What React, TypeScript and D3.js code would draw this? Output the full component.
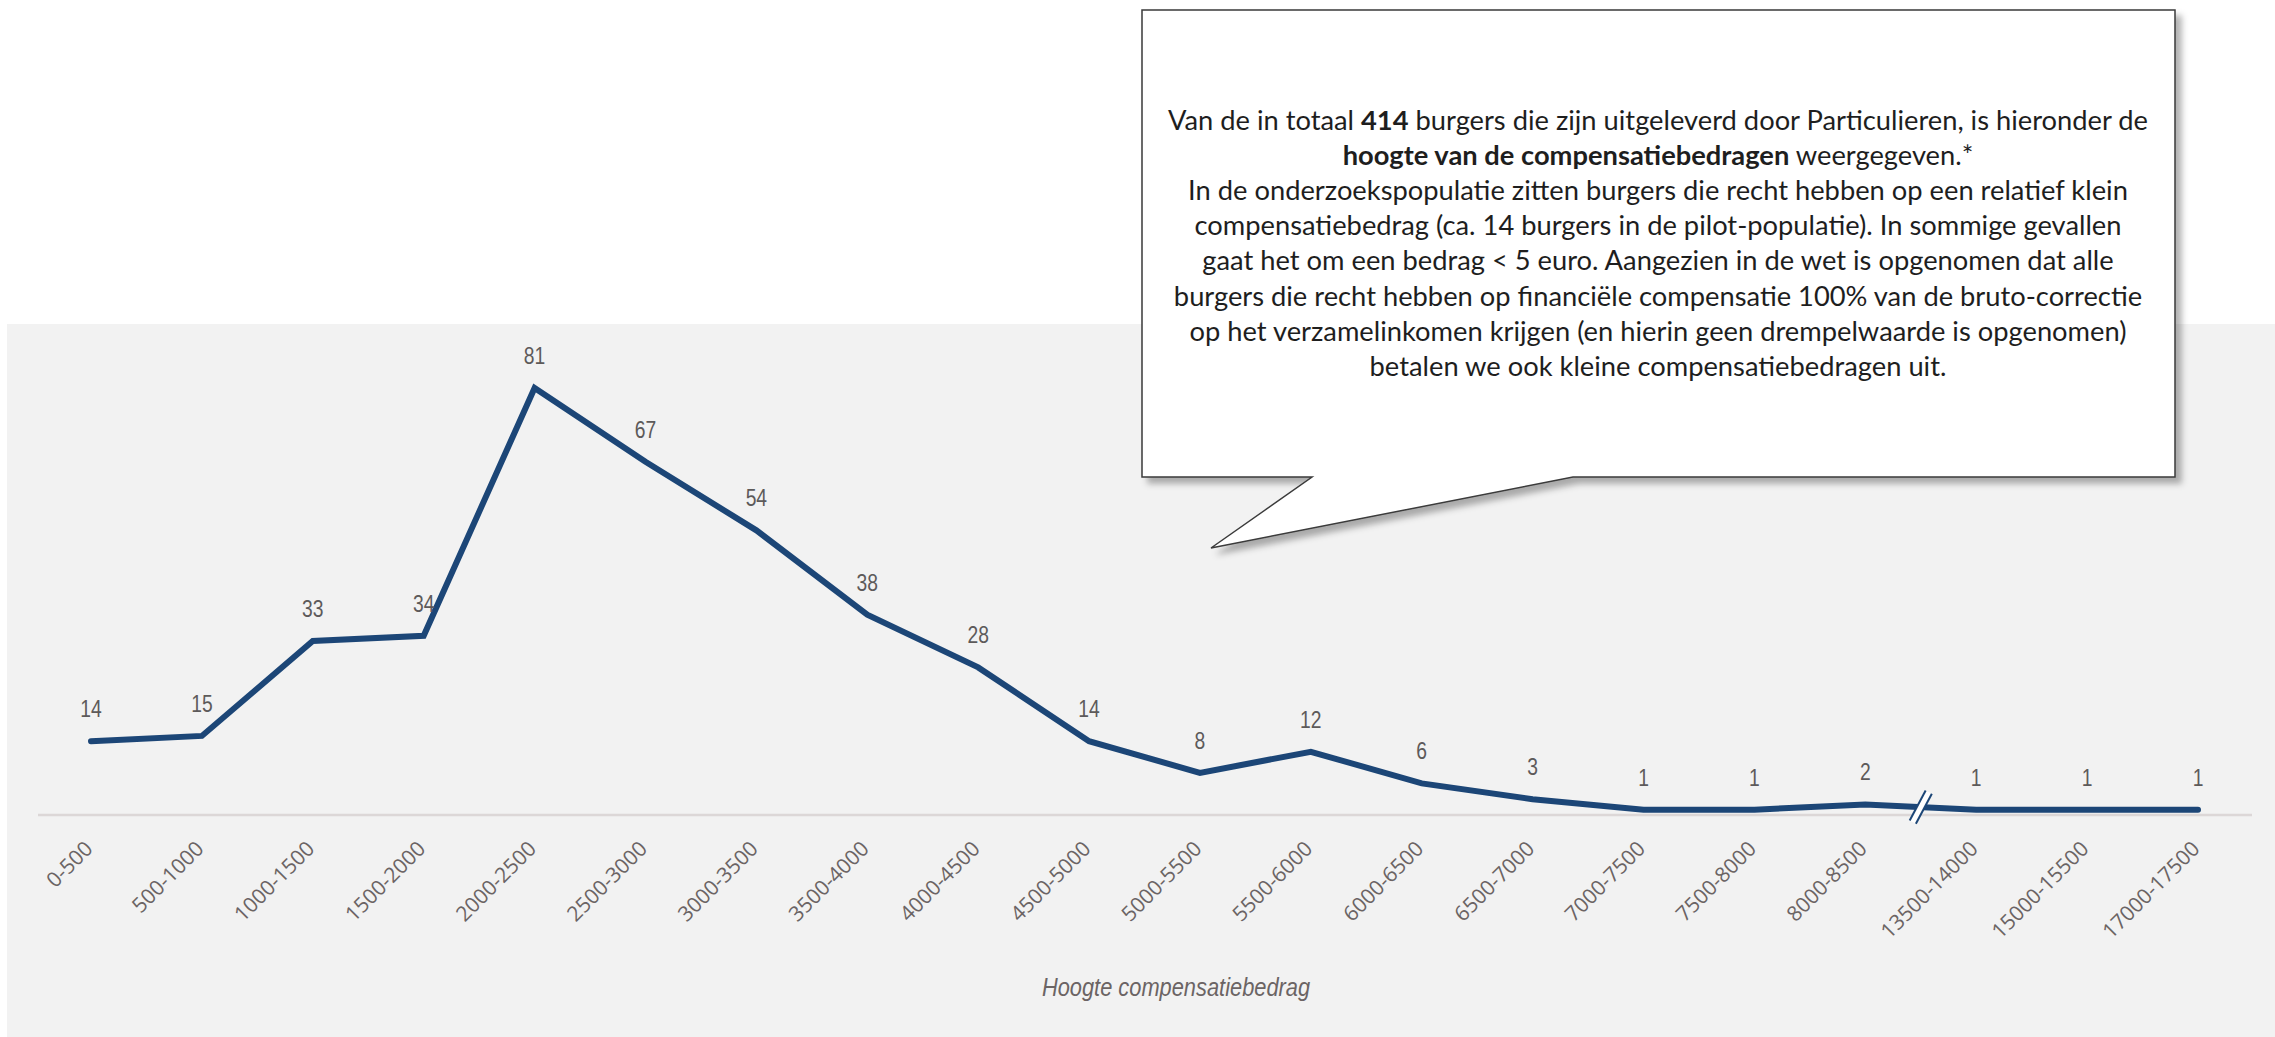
import { useEffect, useRef } from 'react';
import * as d3 from 'd3';

// Number of citizens per compensation bracket (euro)
const categories = [
  '0-500', '500-1000', '1000-1500', '1500-2000', '2000-2500', '2500-3000',
  '3000-3500', '3500-4000', '4000-4500', '4500-5000', '5000-5500', '5500-6000',
  '6000-6500', '6500-7000', '7000-7500', '7500-8000', '8000-8500',
  '13500-14000', '15000-15500', '17000-17500',
];
const counts = [14, 15, 33, 34, 81, 67, 54, 38, 28, 14, 8, 12, 6, 3, 1, 1, 2, 1, 1, 1];

// the x axis is broken between these two brackets
const breakBetween = ['8000-8500', '13500-14000'];

const axisTitle = 'Hoogte compensatiebedrag';

type Run = { text: string; bold?: boolean };
const calloutLines: Run[][] = [
  [
    { text: 'Van de in totaal ' },
    { text: '414', bold: true },
    { text: ' burgers die zijn uitgeleverd door Particulieren, is hieronder de' },
  ],
  [{ text: 'hoogte van de compensatiebedragen', bold: true }, { text: ' weergegeven.*' }],
  [{ text: 'In de onderzoekspopulatie zitten burgers die recht hebben op een relatief klein' }],
  [{ text: 'compensatiebedrag (ca. 14 burgers in de pilot-populatie). In sommige gevallen' }],
  [{ text: 'gaat het om een bedrag < 5 euro. Aangezien in de wet is opgenomen dat alle' }],
  [{ text: 'burgers die recht hebben op financiële compensatie 100% van de bruto-correctie' }],
  [{ text: 'op het verzamelinkomen krijgen (en hierin geen drempelwaarde is opgenomen)' }],
  [{ text: 'betalen we ook kleine compensatiebedragen uit.' }],
];

export default function App() {
  const svgRef = useRef<SVGSVGElement | null>(null);

  const width = 2275;
  const height = 1037;

  useEffect(() => {
    const svg = d3.select(svgRef.current);
    svg.selectAll('*').remove();

    const x = d3.scalePoint<string>().domain(categories).range([91, 2198]);
    const y = d3.scaleLinear().domain([0, 81]).range([815, 388]);

    // narrow look for the chart labels (no condensed font available)
    const narrow = 0.84;
    const labelFont = "'Liberation Sans', Arial, sans-serif";

    const defs = svg.append('defs');
    const shadow = defs
      .append('filter')
      .attr('id', 'callout-shadow')
      .attr('x', '-5%')
      .attr('y', '-5%')
      .attr('width', '115%')
      .attr('height', '115%');
    shadow
      .append('feDropShadow')
      .attr('dx', 6)
      .attr('dy', 6)
      .attr('stdDeviation', 3)
      .attr('flood-color', '#000')
      .attr('flood-opacity', 0.3);

    // Plot background
    svg
      .append('rect')
      .attr('x', 7)
      .attr('y', 324)
      .attr('width', width - 7)
      .attr('height', height - 324)
      .attr('fill', '#f2f2f2');

    // Baseline
    svg
      .append('line')
      .attr('x1', 38)
      .attr('x2', 2252)
      .attr('y1', y(0))
      .attr('y2', y(0))
      .attr('stroke', '#dcd7d7')
      .attr('stroke-width', 2.5);

    // Category labels, rotated
    const tickY = y(0) + 35;
    svg
      .append('g')
      .selectAll('text')
      .data(categories)
      .join('text')
      .attr('transform', (d) => `translate(${(x(d) ?? 0) + 3},${tickY}) rotate(-45)`)
      .attr('text-anchor', 'end')
      .attr('font-family', "'Open Sans', sans-serif")
      .attr('font-size', 21)
      .attr('fill', '#6b6464')
      .text((d) => d);

    // Axis title
    svg
      .append('text')
      .attr('transform', `translate(1176,996) scale(${narrow},1)`)
      .attr('text-anchor', 'middle')
      .attr('font-family', labelFont)
      .attr('font-style', 'italic')
      .attr('font-size', 26)
      .attr('fill', '#6b6464')
      .text(axisTitle);

    // The line
    const line = d3
      .line<number>()
      .x((_, i) => x(categories[i]) ?? 0)
      .y((d) => y(d));

    svg
      .append('path')
      .datum(counts)
      .attr('fill', 'none')
      .attr('stroke', '#1c4677')
      .attr('stroke-width', 6)
      .attr('stroke-linejoin', 'miter')
      .attr('stroke-linecap', 'round')
      .attr('d', line);

    // Axis break marker
    const i0 = categories.indexOf(breakBetween[0]);
    const i1 = categories.indexOf(breakBetween[1]);
    const bx = ((x(breakBetween[0]) ?? 0) + (x(breakBetween[1]) ?? 0)) / 2;
    const by = y((counts[i0] + counts[i1]) / 2);
    const brk = svg.append('g').attr('transform', `translate(${bx},${by}) rotate(-62)`);
    brk
      .append('rect')
      .attr('x', -17)
      .attr('y', -3.5)
      .attr('width', 34)
      .attr('height', 7)
      .attr('fill', '#ffffff');
    [-3.5, 3.5].forEach((off) => {
      brk
        .append('line')
        .attr('x1', -17)
        .attr('x2', 17)
        .attr('y1', off)
        .attr('y2', off)
        .attr('stroke', '#1c4677')
        .attr('stroke-width', 2);
    });

    // Value labels
    svg
      .append('g')
      .selectAll('text')
      .data(counts)
      .join('text')
      .attr(
        'transform',
        (d, i) => `translate(${x(categories[i]) ?? 0},${y(d) - 24}) scale(${narrow},1)`
      )
      .attr('text-anchor', 'middle')
      .attr('font-family', labelFont)
      .attr('font-size', 23)
      .attr('fill', '#5d5a5a')
      .text((d) => d);

    // Speech-bubble annotation
    svg
      .append('path')
      .attr('d', 'M1142,10 H2175 V477 H1573 L1211,548 L1312,477 H1142 Z')
      .attr('fill', '#ffffff')
      .attr('stroke', '#3b3b3b')
      .attr('stroke-width', 1.5)
      .attr('filter', 'url(#callout-shadow)');

    const note = svg
      .append('text')
      .attr('text-anchor', 'middle')
      .attr('font-family', "Lato, 'Open Sans', sans-serif")
      .attr('font-size', 27.3)
      .attr('fill', '#1e1e1e');

    calloutLines.forEach((runs, li) => {
      runs.forEach((run, ri) => {
        const ts = note.append('tspan').text(run.text);
        if (ri === 0) ts.attr('x', 1658).attr('y', 130 + li * 35.1);
        if (run.bold) ts.attr('font-weight', 'bold');
      });
    });
  }, []);

  return (
    <svg
      ref={svgRef}
      width={width}
      height={height}
      style={{ position: 'absolute', left: 0, top: 0, display: 'block' }}
    ></svg>
  );
}
